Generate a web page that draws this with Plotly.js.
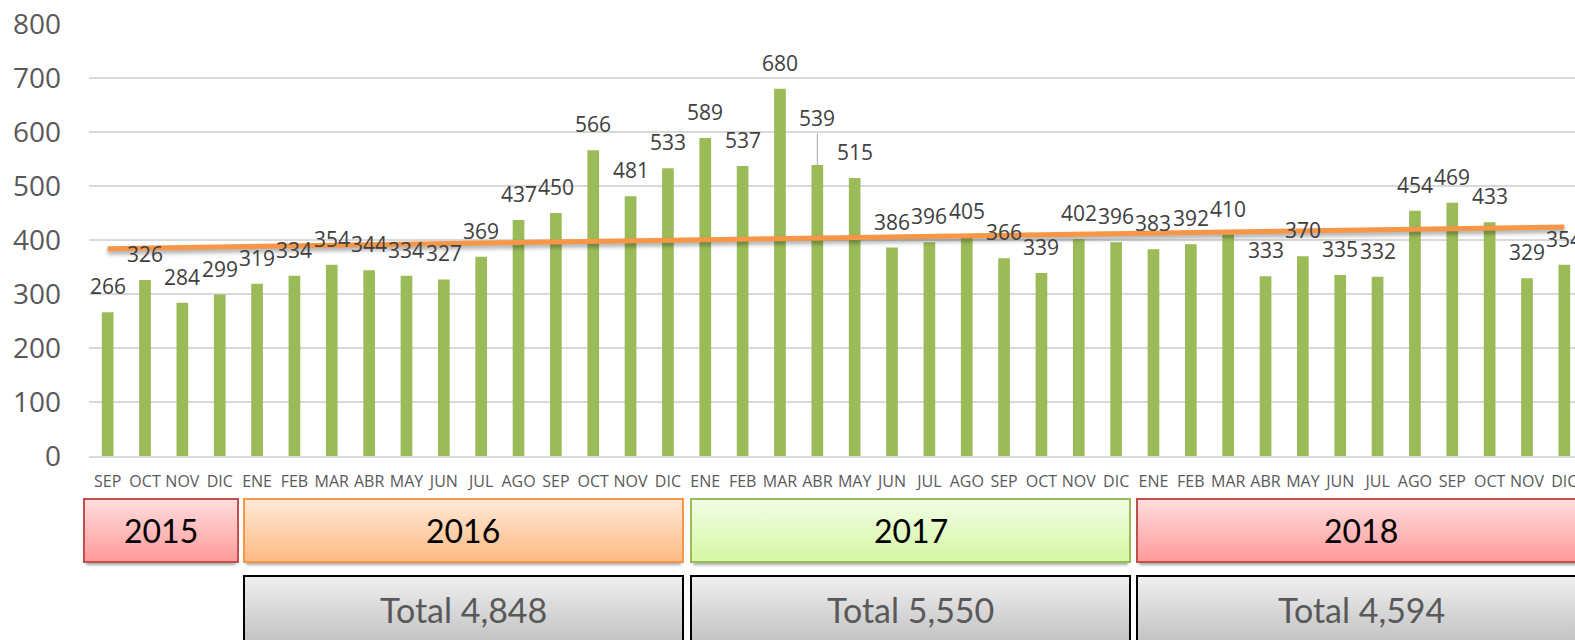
<!DOCTYPE html>
<html>
<head>
<meta charset="utf-8">
<script src="https://cdn.plot.ly/plotly-3.0.1.min.js"></script>
<style>
  html, body { margin: 0; padding: 0; background: #ffffff; }
  #chart { width: 1575px; height: 640px; }
  .scatterlayer .js-line { filter: drop-shadow(0px 3px 2px rgba(0,0,0,0.35)); }
</style>
</head>
<body>
<div id="chart"></div>
<script>
// ---------------- data ----------------
const years = ['2015', '2016', '2017', '2018'];
const months2015 = ['SEP', 'OCT', 'NOV', 'DIC'];
const monthsFull = ['ENE', 'FEB', 'MAR', 'ABR', 'MAY', 'JUN', 'JUL', 'AGO', 'SEP', 'OCT', 'NOV', 'DIC'];
const values2015 = [266, 326, 284, 299];
const values2016 = [319, 334, 354, 344, 334, 327, 369, 437, 450, 566, 481, 533];
const values2017 = [589, 537, 680, 539, 515, 386, 396, 405, 366, 339, 402, 396];
const values2018 = [383, 392, 410, 333, 370, 335, 332, 454, 469, 433, 329, 354];
const totals = [4848, 5550, 4594];          // totals for 2016, 2017, 2018
const trendEnds = [384, 424];               // linear trend line, first and last month
const yTicks = [0, 100, 200, 300, 400, 500, 600, 700, 800];

// ---------------- build categories ----------------
const monthLists = [months2015, monthsFull, monthsFull, monthsFull];
const valueLists = [values2015, values2016, values2017, values2018];
const keys = [], ticks = [], vals = [];
years.forEach((yr, yi) => {
  monthLists[yi].forEach((m, mi) => {
    keys.push(m + ' ' + yr);
    ticks.push(m);
    vals.push(valueLists[yi][mi]);
  });
});

// ---------------- geometry helpers (layout only) ----------------
const W = 1575, H = 640;
const M = { l: 89, r: 0, t: 24, b: 184 };
const PW = W - M.l - M.r, PH = H - M.t - M.b;
const px2x = p => (p - M.l) / PW;
const px2y = p => (H - M.b - p) / PH;

function boxSVG(w, h, c1, c2, stroke, sw, shadow) {
  const pad = shadow ? 6 : 0;
  const sh = shadow ? `<rect x="3" y="5" width="${w - 6}" height="${h - 3}" fill="rgba(0,0,0,0.35)" filter="url(#f)"/>` : '';
  const svg = `<svg xmlns="http://www.w3.org/2000/svg" width="${w}" height="${h + pad}" viewBox="0 0 ${w} ${h + pad}">` +
    `<defs><linearGradient id="g" x1="0" y1="0" x2="0" y2="1"><stop offset="0" stop-color="${c1}"/><stop offset="1" stop-color="${c2}"/></linearGradient>` +
    `<filter id="f" x="-5%" y="-20%" width="110%" height="150%"><feGaussianBlur stdDeviation="1.8"/></filter></defs>` +
    sh +
    `<rect x="${sw / 2}" y="${sw / 2}" width="${w - sw}" height="${h - sw}" fill="url(#g)" stroke="${stroke}" stroke-width="${sw}"/></svg>`;
  return { src: 'data:image/svg+xml;charset=utf-8,' + encodeURIComponent(svg), hh: h + pad };
}

const yearBoxes = [
  { x0: 83, x1: 239, c1: '#ffdede', c2: '#ff9999', s: '#c0504d' },
  { x0: 243, x1: 684, c1: '#ffe9d8', c2: '#fdba82', s: '#f79646' },
  { x0: 690, x1: 1131, c1: '#f2fde6', c2: '#d5f7a2', s: '#9bbb59' },
  { x0: 1136, x1: 1640, c1: '#ffdede', c2: '#ff9999', s: '#c0504d' }
];
const yearTop = 498, yearBot = 563;
const totalTop = 575, totalBot = 652;

const images = [], annotations = [];
yearBoxes.forEach((b, i) => {
  const w = b.x1 - b.x0, h = yearBot - yearTop;
  const im = boxSVG(w, h, b.c1, b.c2, b.s, 2, true);
  images.push({ source: im.src, xref: 'paper', yref: 'paper', x: px2x(b.x0), y: px2y(yearTop),
    sizex: w / PW, sizey: im.hh / PH, xanchor: 'left', yanchor: 'top', sizing: 'stretch', layer: 'above' });
  const cx = i === 3 ? 1361 : (b.x0 + b.x1) / 2;
  annotations.push({ xref: 'paper', yref: 'paper', x: px2x(cx), y: px2y((yearTop + yearBot) / 2),
    text: years[i], showarrow: false, xanchor: 'center', yanchor: 'middle',
    font: { family: 'Lato, "Open Sans", sans-serif', size: 32, color: '#000000' } });
});
totals.forEach((t, i) => {
  const b = yearBoxes[i + 1];
  const w = b.x1 - b.x0, h = totalBot - totalTop;
  const im = boxSVG(w, h, '#f0f0f0', '#bcbcbc', '#000000', 2, false);
  images.push({ source: im.src, xref: 'paper', yref: 'paper', x: px2x(b.x0), y: px2y(totalTop),
    sizex: w / PW, sizey: im.hh / PH, xanchor: 'left', yanchor: 'top', sizing: 'stretch', layer: 'above' });
  const cx = i === 2 ? 1361 : (b.x0 + b.x1) / 2;
  annotations.push({ xref: 'paper', yref: 'paper', x: px2x(cx), y: px2y(609),
    text: 'Total ' + t.toLocaleString('en-US'), showarrow: false, xanchor: 'center', yanchor: 'middle',
    font: { family: 'Lato, "Open Sans", sans-serif', size: 34, color: '#595959' } });
});

// data labels
const labelFont = { family: '"Open Sans", sans-serif', size: 21, color: '#404040' };
keys.forEach((k, i) => {
  if (k === 'ABR 2017') {
    annotations.push({ xref: 'x', yref: 'y', x: k, y: vals[i], text: String(vals[i]),
      showarrow: true, arrowhead: 0, arrowwidth: 1, arrowcolor: '#a6a6a6', ax: 0, ay: -47, standoff: 0,
      font: labelFont });
  } else {
    annotations.push({ xref: 'x', yref: 'y', x: k, y: vals[i], text: String(vals[i]),
      showarrow: false, xanchor: 'center', yanchor: 'middle', yshift: 26, font: labelFont });
  }
});

const traces = [
  { type: 'bar', x: keys, y: vals, marker: { color: '#9bbb59' }, hoverinfo: 'x+y', cliponaxis: false },
  { type: 'scatter', mode: 'lines', x: [keys[0], keys[keys.length - 1]], y: trendEnds,
    line: { color: '#f79646', width: 5 }, hoverinfo: 'skip', cliponaxis: false }
];

const layout = {
  width: W, height: H,
  margin: M,
  paper_bgcolor: '#ffffff', plot_bgcolor: '#ffffff',
  showlegend: false,
  bargap: 0.687,
  xaxis: {
    type: 'category', range: [-0.5, -0.5 + PW / 37.35],
    tickvals: keys, ticktext: ticks, ticks: '', showgrid: false,
    showline: true, linecolor: '#d9d9d9', linewidth: 1.5,
    tickfont: { family: '"Open Sans", sans-serif', size: 16, color: '#595959' },
    ticklabelstandoff: 10, fixedrange: true, zeroline: false
  },
  yaxis: {
    range: [0, 800], tickvals: yTicks, ticks: '', showgrid: true,
    gridcolor: '#d9d9d9', gridwidth: 1.3, zeroline: false, showline: false,
    tickfont: { family: '"Open Sans", sans-serif', size: 28, color: '#595959' },
    ticklabelstandoff: 27, fixedrange: true
  },
  annotations: annotations,
  images: images
};

Plotly.newPlot('chart', traces, layout, { displayModeBar: false, staticPlot: true });
</script>
</body>
</html>
